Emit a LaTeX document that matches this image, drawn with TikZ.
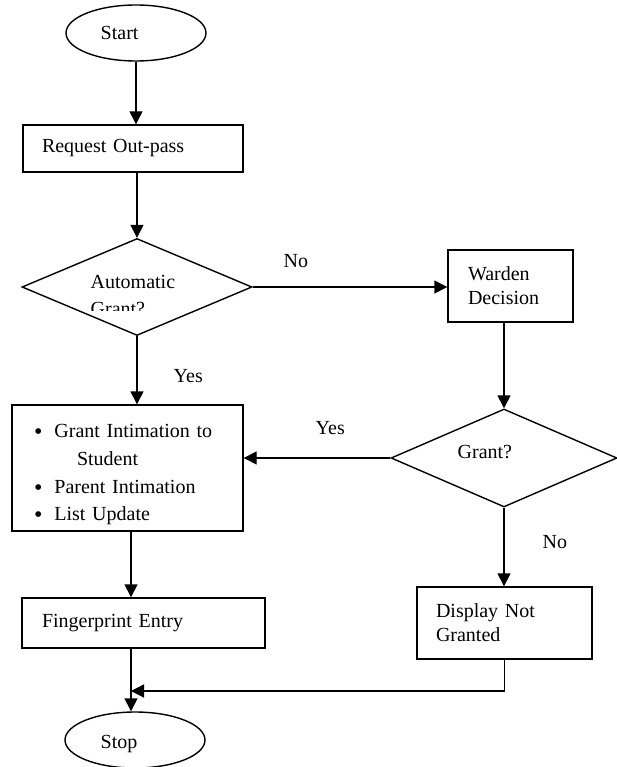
\documentclass[tikz,border=0pt]{standalone}
\usepackage{fontspec}
\setmainfont{Liberation Serif}
\usetikzlibrary{shapes.geometric,arrows.meta}
\newcommand{\bigbul}{\raisebox{-2pt}{\fontsize{24}{28}\selectfont\textbullet}}
\begin{document}
\begin{tikzpicture}[x=1pt,y=-1pt,
  line width=1.4pt,
  every node/.style={font=\fontsize{20}{24}\selectfont},
  txt/.style={anchor=base west,inner sep=0pt},
  box/.style={draw,rectangle,align=left,inner ysep=0pt},
  term/.style={draw,ellipse,minimum width=140pt,minimum height=56pt,inner sep=0pt},
  dec/.style={draw,diamond,inner sep=0pt},
  arr/.style={-{Triangle[length=13pt,width=13pt]}}]
\useasboundingbox (0,0) rectangle (616,767);
% terminals
\node[term] (start) at (136,33) {};
\node[txt] (starttxt) at (100,40) {Start};
\node[term] (stop) at (135,740) {};
\node[txt] (stoptxt) at (100,748) {Stop};
% boxes
\node[box,minimum height=47pt,inner xsep=19pt,text width=182pt] (req) at (133,148.5) {Request Out-pass};
\node[box,minimum height=72pt,inner xsep=20pt,text width=85pt] (warden) at (510.5,286) {Warden Decision};
\node[box,minimum height=126pt,minimum width=231pt,inner xsep=0pt,text width=231pt] (grant) at (127.5,468)
  {\fontsize{20}{28}\selectfont\rule{0pt}{26pt}\hspace{22pt}\bigbul\hspace{12pt}Grant Intimation to\\
   \hspace{65pt}Student\\
   \hspace{22pt}\bigbul\hspace{12pt}Parent Intimation\\[3pt]
   \hspace{22pt}\bigbul\hspace{12pt}List Update};
\node[box,minimum height=50pt,inner xsep=20pt,text width=203pt] (finger) at (143.5,623) {Fingerprint Entry};
\node[box,minimum height=72pt,inner xsep=19pt,text width=137pt] (disp) at (504.5,623) {Display Not Granted};
% decisions
\node[dec,minimum width=230pt,minimum height=97pt] (auto) at (137,287) {};
\node[txt] (autotxt) at (90,288) {Automatic};
\begin{scope}
  \clip (80,290) rectangle (200,310);
  \node[txt] (autotxt2) at (90,315) {Grant?};
\end{scope}
\node[dec,minimum width=226pt,minimum height=98pt] (g2) at (504,458) {};
\node[txt] (g2txt) at (457,458) {Grant?};
% labels
\node[txt] (lno1) at (283,267) {No};
\node[txt] (lyes1) at (173,382) {Yes};
\node[txt] (lyes2) at (315,434) {Yes};
\node[txt] (lno2) at (542,548) {No};
\coordinate (join) at (131,691);
% connectors
\draw[arr] (start.south) -- (start.south |- req.north);
\draw[arr] (auto.north |- req.south) -- (auto.north);
\draw[arr] (auto.south) -- (auto.south |- grant.north);
\draw[arr] (auto.east) -- (auto.east -| warden.west);
\draw[arr] (g2.north |- warden.south) -- (g2.north);
\draw[arr] (g2.west) -- (g2.west -| grant.east);
\draw[arr] (g2.south) -- (g2.south |- disp.north);
\draw[arr] ([xshift=3.5pt]grant.south) -- ([xshift=3.5pt]grant.south |- finger.north);
\draw[arr] ([xshift=3.5pt]grant.south |- finger.south) -- ([xshift=3.5pt]grant.south |- stop.north);
\draw[arr] (disp.south) |- (join);
\end{tikzpicture}
\end{document}
